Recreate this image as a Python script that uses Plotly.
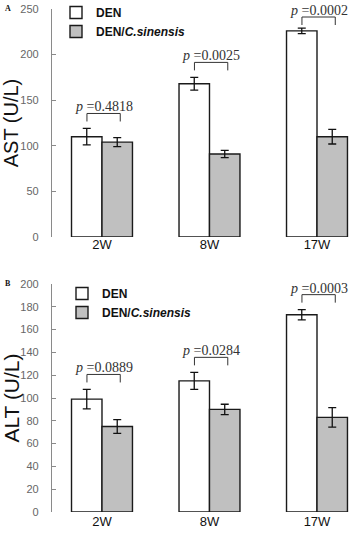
import plotly.graph_objects as go

# ---------------- data ----------------
weeks = ["2W", "8W", "17W"]
ast_den = [110, 168, 226]
ast_den_err = [9, 7, 3]
ast_cs = [104, 91, 110]
ast_cs_err = [5, 4, 8]
alt_den = [99, 115, 173]
alt_den_err = [8.5, 7.5, 4.5]
alt_cs = [75, 90, 83]
alt_cs_err = [6, 4.5, 8.5]
ast_p = ["0.4818", "0.0025", "0.0002"]
alt_p = ["0.0889", "0.0284", "0.0003"]
series_names = ["DEN", "DEN/<i>C.sinensis</i>"]

# ---------------- layout constants ----------------
W, H = 350, 534
XDOM = [52 / W, 1.0]
X_RANGE = [-0.465, 2.307]
DOM_A = [1 - 237 / H, 1 - 9 / H]
DOM_B = [1 - 512 / H, 1 - 284 / H]
RANGE_A = [0, 250]
RANGE_B = [0, 200]

WHITE = "#ffffff"
GRAY = "#c0c0c0"
EDGE = "#1a1a1a"

xs = list(range(len(weeks)))
PPX = (XDOM[1] - XDOM[0]) * W / (X_RANGE[1] - X_RANGE[0])

fig = go.Figure()


def add_panel(den, den_err, cs, cs_err, xa, ya, legend):
    for vals, errs, color, name in [
        (den, den_err, WHITE, series_names[0]),
        (cs, cs_err, GRAY, series_names[1]),
    ]:
        fig.add_trace(go.Bar(
            x=xs, y=vals, name="<b>" + name + "</b>", xaxis=xa, yaxis=ya, legend=legend,
            marker=dict(color=color, line=dict(color=EDGE, width=1.4)),
            error_y=dict(type="data", array=errs, visible=True,
                         color="#111", thickness=1.3, width=4),
        ))


add_panel(ast_den, ast_den_err, ast_cs, ast_cs_err, "x", "y", "legend")
add_panel(alt_den, alt_den_err, alt_cs, alt_cs_err, "x2", "y2", "legend2")


def brackets(den, den_err, cs, cs_err, pvals, xref, yref, dom, rng):
    ppu = (dom[1] - dom[0]) * H / (rng[1] - rng[0])
    top_px = (1 - dom[1]) * H          # pixel row of the axis top
    pad = 15 / ppu
    leg = 8 / ppu
    for i, p in enumerate(pvals):
        top = max(den[i] + den_err[i], cs[i] + cs_err[i]) + pad
        # keep the label inside the figure (text box needs ~17px above the bracket)
        top = min(top, rng[1] + (top_px - 17) / ppu)
        x0, x1 = xs[i] - 0.14, xs[i] + 0.17
        fig.add_shape(type="path", xref=xref, yref=yref,
                      path=f"M{x0},{top - leg} L{x0},{top} L{x1},{top} L{x1},{top - leg}",
                      line=dict(color="#333", width=1))
        xc = (x0 + x1) / 2
        cx_px = XDOM[0] * W + (xc - X_RANGE[0]) * PPX
        shift = min(0, (W - 31) - cx_px)
        fig.add_annotation(x=xc, y=top, xref=xref, yref=yref,
                           text=f"<i>p</i> =" + p, showarrow=False, borderpad=0,
                           yanchor="bottom", yshift=-2, xshift=shift,
                           font=dict(family="Liberation Serif, Times New Roman, serif",
                                     size=14, color="#333"))


brackets(ast_den, ast_den_err, ast_cs, ast_cs_err, ast_p, "x", "y", DOM_A, RANGE_A)
brackets(alt_den, alt_den_err, alt_cs, alt_cs_err, alt_p, "x2", "y2", DOM_B, RANGE_B)

xaxis_common = dict(
    range=X_RANGE, domain=XDOM, tickvals=xs, ticktext=weeks, automargin=False,
    showline=False, showgrid=False, zeroline=False, ticks="",
    tickfont=dict(family="Liberation Sans, Arial, sans-serif", size=13, color="#111"),
)
yaxis_common = dict(
    showline=True, linecolor="#8a8a8a", linewidth=1.3, automargin=False,
    showgrid=False, zeroline=False,
    ticks="inside", ticklen=4, tickcolor="#8a8a8a", tickwidth=1,
    ticklabelstandoff=10,
    tickfont=dict(family="Liberation Sans Narrow, Arial Narrow, Liberation Sans, sans-serif",
                  size=11, color="#666"),
)

legend_font = dict(family="Liberation Sans, Arial, sans-serif", size=12, color="#111")

fig.update_layout(
    width=W, height=H,
    margin=dict(l=0, r=0, t=0, b=0, autoexpand=False),
    paper_bgcolor="white", plot_bgcolor="white",
    barmode="group", bargap=0.433, bargroupgap=0,
    xaxis=dict(anchor="y", ticklabelstandoff=-2, **xaxis_common),
    xaxis2=dict(anchor="y2", ticklabelstandoff=0, **xaxis_common),
    yaxis=dict(domain=DOM_A, range=RANGE_A, dtick=50, anchor="x",
               title=dict(text="AST (U/L)", standoff=12,
                          font=dict(family="Liberation Sans, Arial, sans-serif", size=20, color="#111")),
               **yaxis_common),
    yaxis2=dict(domain=DOM_B, range=RANGE_B, dtick=20, anchor="x2",
                title=dict(text="ALT (U/L)", standoff=12,
                           font=dict(family="Liberation Sans, Arial, sans-serif", size=21, color="#111")),
                **yaxis_common),
    legend=dict(x=56 / W, y=1 + 2 / H, xanchor="left", yanchor="top",
                bgcolor="rgba(0,0,0,0)", itemclick=False, font=legend_font, tracegroupgap=0),
    legend2=dict(x=62 / W, y=1 - 279 / H, xanchor="left", yanchor="top",
                 bgcolor="rgba(0,0,0,0)", itemclick=False, font=legend_font, tracegroupgap=0),
    showlegend=True,
)

for label, yy in [("A", 1 - 8 / H), ("B", 1 - 283 / H)]:
    fig.add_annotation(x=0.008, y=yy, xref="paper", yref="paper", text=f"<b>{label}</b>",
                       showarrow=False, xanchor="left", yanchor="middle",
                       font=dict(family="Liberation Serif, Times New Roman, serif", size=8, color="#111"))

fig.write_html("out.html", config={"displayModeBar": False},
               post_script="document.body.style.margin='0';")
